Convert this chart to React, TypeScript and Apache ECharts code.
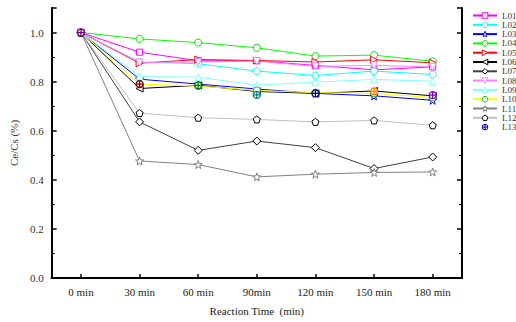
import React, { useEffect, useRef } from "react";
import * as echarts from "echarts";

const categories = ["0 min", "30 min", "60 min", "90min", "120 min", "150 min", "180 min"];
const yTicks = [0, 0.2, 0.4, 0.6, 0.8, 1.0];
const seriesNames = ["L01", "L02", "L03", "L04", "L05", "L06", "L07", "L08", "L09", "L10", "L11", "L12", "L13"];

const L01 = [1.0, 0.92, 0.885, 0.885, 0.866, 0.848, 0.86];
const L02 = [1.0, 0.88, 0.873, 0.843, 0.825, 0.843, 0.829];
const L03 = [1.0, 0.81, 0.79, 0.77, 0.752, 0.742, 0.724];
const L04 = [1.0, 0.974, 0.959, 0.938, 0.904, 0.908, 0.883];
const L05 = [1.0, 0.875, 0.89, 0.886, 0.88, 0.889, 0.877];
const L06 = [1.0, 0.772, 0.785, 0.76, 0.752, 0.762, 0.742];
const L07 = [1.0, 0.636, 0.52, 0.558, 0.531, 0.446, 0.493];
const L08 = [1.0, 0.878, 0.88, 0.884, 0.862, 0.866, 0.86];
const L09 = [1.0, 0.821, 0.818, 0.786, 0.798, 0.809, 0.802];
const L10 = [1.0, 0.79, 0.782, 0.764, 0.755, 0.752, 0.735];
const L11 = [1.0, 0.477, 0.462, 0.412, 0.423, 0.43, 0.432];
const L12 = [1.0, 0.672, 0.653, 0.646, 0.636, 0.642, 0.622];
const L13 = [1.0, 0.79, 0.785, 0.746, 0.752, 0.76, 0.745];
const L13PointColors = ["#800080", "#800000", "#008000", "#008080", "#000080", "#FF8000", "#8000C0"];

const STAR =
  "path://M0,-10 L2.35,-3.24 L9.51,-3.09 L3.8,1.24 L5.88,8.09 L0,4 L-5.88,8.09 L-3.8,1.24 L-9.51,-3.09 L-2.35,-3.24 Z";
const PENTAGON = "path://M0,-10 L9.51,-3.09 L5.88,8.09 L-5.88,8.09 L-9.51,-3.09 Z";
const CIRCLE_PLUS =
  "path://M0,-10 A10,10 0 1,1 0,10 A10,10 0 1,1 0,-10 Z M0,-10 L0,10 M-10,0 L10,0";

const FONT = "Liberation Serif";

export default function App() {
  const ref = useRef<HTMLDivElement>(null);
  useEffect(() => {
    if (!ref.current) return;
    const chart = echarts.init(ref.current, null, { renderer: "svg" });

    const defs: any[] = [
      { data: L01, line: "#FF00FF", mark: "#FF00FF", symbol: "rect", rot: 0, size: 6 },
      { data: L02, line: "#00FFFF", mark: "#00FFFF", symbol: "circle", rot: 0, size: 7 },
      { data: L03, line: "#0000FF", mark: "#0000FF", symbol: STAR, rot: 0, size: 8 },
      { data: L04, line: "#00FF00", mark: "#00E000", symbol: "circle", rot: 0, size: 7 },
      { data: L05, line: "#FF0000", mark: "#FF0000", symbol: "triangle", rot: -90, size: 7 },
      { data: L06, line: "#000000", mark: "#000000", symbol: "triangle", rot: 90, size: 7 },
      { data: L07, line: "#404040", mark: "#000000", symbol: "diamond", rot: 0, size: 8 },
      { data: L08, line: "#FF80FF", mark: "#FF80FF", symbol: "triangle", rot: 180, size: 7 },
      { data: L09, line: "#80FFFF", mark: "#80FFFF", symbol: "triangle", rot: 0, size: 7 },
      { data: L10, line: "#FFFF00", mark: "#00C000", symbol: "circle", rot: 0, size: 7 },
      { data: L11, line: "#808080", mark: "#808080", symbol: STAR, rot: 0, size: 8 },
      { data: L12, line: "#C0C0C0", mark: "#000000", symbol: PENTAGON, rot: 0, size: 7 },
    ];

    const series: any[] = defs.map((d, i) => ({
      name: seriesNames[i],
      type: "line",
      data: d.data,
      xAxisIndex: 0,
      yAxisIndex: 0,
      symbol: d.symbol,
      symbolSize: d.size,
      symbolRotate: d.rot,
      showAllSymbol: true,
      color: d.mark,
      lineStyle: { color: d.line, width: 1 },
      itemStyle: { color: "#FFFFFF", borderColor: d.mark, borderWidth: 1 },
      emphasis: { disabled: true },
    }));

    series.push({
      name: "L13",
      type: "line",
      data: L13.map((v, i) => ({
        value: v,
        itemStyle: { color: "#FFFFFF", borderColor: L13PointColors[i], borderWidth: 1.3 },
      })),
      symbol: CIRCLE_PLUS,
      symbolSize: 7,
      showAllSymbol: true,
      color: "#000080",
      lineStyle: { width: 0, opacity: 0 },
      itemStyle: { color: "#FFFFFF", borderColor: "#000080", borderWidth: 1.3 },
      emphasis: { disabled: true },
    });

    const axisLine = { show: true, lineStyle: { color: "#000", width: 2 } };

    chart.setOption({
      animation: false,
      textStyle: { fontFamily: FONT },
      grid: { left: 51, right: 54, top: 8, bottom: 44, containLabel: false },
      legend: {
        orient: "vertical",
        left: 472,
        top: 11,
        padding: 0,
        itemWidth: 24,
        itemHeight: 7,
        itemGap: 0.3,
        data: seriesNames,
        itemStyle: { color: "#FFFFFF", borderColor: "inherit", borderWidth: 1 },
        textStyle: { fontFamily: FONT, fontSize: 9, lineHeight: 9, color: "#333" },
      },
      xAxis: [
        {
          type: "category",
          data: categories,
          boundaryGap: true,
          position: "bottom",
          axisLine,
          axisTick: { show: true, inside: true, alignWithLabel: true, length: 4, lineStyle: { color: "#000", width: 1.5 } },
          axisLabel: { fontFamily: FONT, fontSize: 11, color: "#222", margin: 8 },
          splitLine: { show: false },
          name: "Reaction Time  (min)",
          nameLocation: "middle",
          nameGap: 27,
          nameTextStyle: { fontFamily: FONT, fontSize: 11, color: "#222" },
        },
        {
          type: "category",
          data: categories,
          boundaryGap: true,
          position: "top",
          axisLine,
          axisTick: { show: false },
          axisLabel: { show: false },
          splitLine: { show: false },
        },
      ],
      yAxis: [
        {
          type: "value",
          min: 0,
          max: 1.1,
          interval: 0.2,
          position: "left",
          axisLine,
          axisTick: { show: true, inside: true, length: 5, lineStyle: { color: "#000", width: 1.5 } },
          minorTick: { show: true, splitNumber: 2, length: 3, lineStyle: { color: "#000", width: 1.2 } },
          axisLabel: {
            fontFamily: FONT,
            fontSize: 11,
            color: "#333",
            margin: 8,
            formatter: (v: number) => {
              const t = yTicks.find((x) => Math.abs(x - v) < 1e-6);
              return t === undefined ? "" : t.toFixed(1);
            },
          },
          splitLine: { show: false },
          name: "Ce/Cs (%)",
          nameLocation: "middle",
          nameGap: 20,
          nameRotate: 90,
          nameTextStyle: { fontFamily: FONT, fontSize: 11, color: "#333" },
        },
        {
          type: "value",
          min: 0,
          max: 1.1,
          interval: 0.2,
          position: "right",
          axisLine,
          axisTick: { show: true, inside: true, length: 5, lineStyle: { color: "#000", width: 1.5 } },
          minorTick: { show: true, splitNumber: 2, length: 3, lineStyle: { color: "#000", width: 1.2 } },
          axisLabel: { show: false },
          splitLine: { show: false },
        },
      ],
      series,
    });
    return () => chart.dispose();
  }, []);
  return <div ref={ref} style={{ width: 516, height: 322, position: "absolute", left: 0, top: 0 }} />;
}
